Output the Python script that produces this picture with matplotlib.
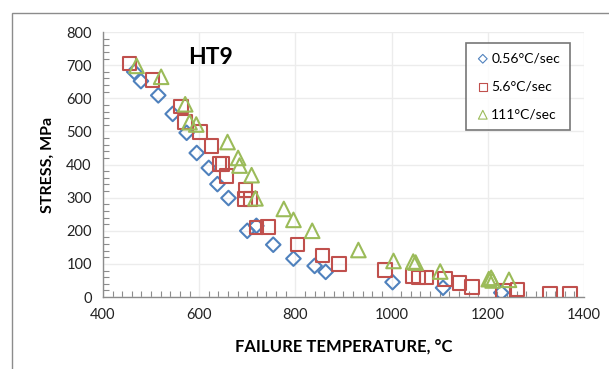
import matplotlib.pyplot as plt
from matplotlib.patches import Rectangle
from matplotlib.ticker import MultipleLocator

plt.rcParams['font.family'] = ['Lato', 'DejaVu Sans']

# 0.56 C/sec (blue diamonds)
temp_slow = [465, 479, 515, 545, 574, 595, 620, 638, 661, 700, 719, 754, 796, 840, 863, 1002, 1107, 1228]
stress_slow = [680, 652, 609, 553, 496, 435, 390, 341, 299, 200, 215, 158, 116, 94, 76, 45, 28, 13]

# 5.6 C/sec (red squares)
temp_mid = [455, 503, 562, 571, 602, 626, 642, 649, 657, 696, 695, 707, 719, 743, 804, 856, 891,
            986, 1045, 1056, 1073, 1111, 1141, 1167, 1232, 1262, 1329, 1371]
stress_mid = [705, 655, 576, 528, 498, 456, 402, 402, 365, 324, 296, 296, 210, 212, 158, 126, 99,
              82, 64, 59, 59, 54, 43, 31, 18, 23, 11, 10]

# 111 C/sec (green triangles)
temp_fast = [470, 521, 571, 580, 594, 659, 681, 684, 709, 717, 776, 796, 835, 931, 1004, 1045, 1050,
             1101, 1202, 1207, 1210, 1244]
stress_fast = [698, 665, 582, 528, 521, 468, 420, 397, 368, 298, 266, 233, 200, 142, 109, 107, 104,
               77, 54, 58, 50, 52]

blue = '#4F81BD'
red = '#C0504D'
green = '#9BBB59'

fig = plt.figure(figsize=(6.09, 3.69), dpi=100)
ax = fig.add_axes([0.169, 0.195, 0.790, 0.718])

# chart-area frame
fig.patches.append(Rectangle((12 / 609, -0.1), 1.0, 1 - 13 / 369 + 0.1, transform=fig.transFigure,
                             fill=False, edgecolor='#8c8c8c', linewidth=1.0))

ax.scatter(temp_slow, stress_slow, marker='D', s=55, facecolors='none', edgecolors=blue,
           linewidths=1.5, label='0.56°C/sec', zorder=3)
ax.scatter(temp_mid, stress_mid, marker='s', s=95, facecolors='none', edgecolors=red,
           linewidths=1.5, label='5.6°C/sec', zorder=3)
ax.scatter(temp_fast, stress_fast, marker='^', s=110, facecolors='none', edgecolors=green,
           linewidths=1.5, label='111°C/sec', zorder=3)

ax.set_xlim(400, 1400)
ax.set_ylim(0, 800)
ax.xaxis.set_major_locator(MultipleLocator(200))
ax.yaxis.set_major_locator(MultipleLocator(100))
ax.xaxis.set_minor_locator(MultipleLocator(20))
ax.yaxis.set_minor_locator(MultipleLocator(20))
ax.grid(True, which='major', color='#ececec', linewidth=1.0, zorder=0)
ax.set_axisbelow(True)

for side in ['top', 'right']:
    ax.spines[side].set_visible(False)
for side in ['left', 'bottom']:
    ax.spines[side].set_color('#8c8c8c')
    ax.spines[side].set_linewidth(1.0)

ax.tick_params(which='both', direction='in', color='#8c8c8c', width=0.8)
ax.tick_params(which='major', length=0, labelsize=10.5, labelcolor='#222222', pad=8)
ax.tick_params(which='minor', length=4)

ax.set_xlabel('FAILURE TEMPERATURE, °C', fontsize=12, fontweight='bold', labelpad=12)
ax.set_ylabel('STRESS, MPa', fontsize=11.5, fontweight='bold', labelpad=8)

ax.text(0.177, 0.905, 'HT9', transform=ax.transAxes, fontsize=16.5, fontweight='bold',
        ha='left', va='center')

leg = ax.legend(loc='upper right', bbox_to_anchor=(0.97, 0.96), fontsize=10, frameon=True,
                fancybox=False, edgecolor='#555555', handletextpad=0.1, handlelength=1.0,
                borderpad=0.7, labelspacing=1.15, markerscale=0.6, borderaxespad=0)
leg.get_frame().set_linewidth(1.2)
for h in leg.legend_handles:
    h.set_linewidth(0.8)

fig.savefig('out.png', dpi=100)
